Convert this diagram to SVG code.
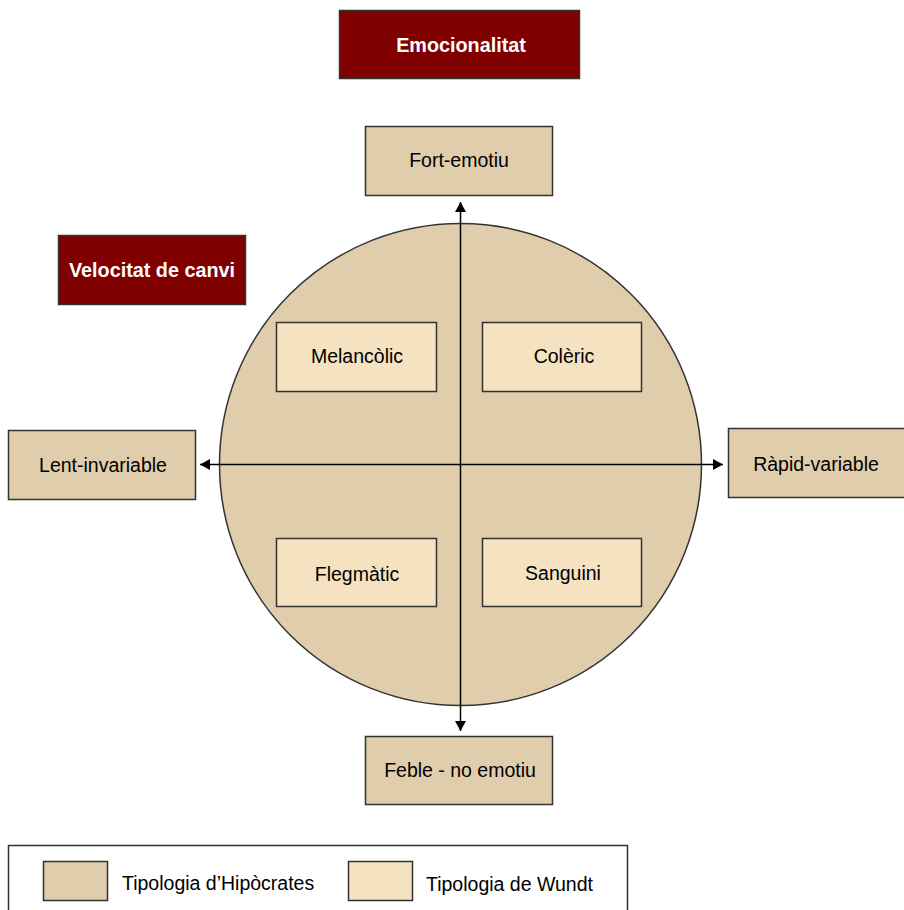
<svg xmlns="http://www.w3.org/2000/svg" width="904" height="910" viewBox="0 0 904 910">
<style>
.h{fill:#E0CDAC;stroke:#333;stroke-width:1.5}
.w{fill:#F5E2C1;stroke:#333;stroke-width:1.5}
.r{fill:#800000;stroke:#333;stroke-width:1.5}
.t{font-family:"Liberation Sans",Arial,sans-serif;font-size:19.5px;fill:#000;text-anchor:middle}
.b{font-family:"Liberation Sans",Arial,sans-serif;font-size:19.8px;font-weight:bold;fill:#fff;text-anchor:middle}
.l{font-family:"Liberation Sans",Arial,sans-serif;font-size:19.5px;fill:#000}
.ax{stroke:#000;stroke-width:1.5;fill:none;marker-start:url(#ah);marker-end:url(#ah)}
</style>
<defs>
<marker id="ah" viewBox="0 0 10 11" refX="10" refY="5.5" markerWidth="10" markerHeight="11" markerUnits="userSpaceOnUse" orient="auto-start-reverse">
<path d="M0,0 L10,5.5 L0,11 z" fill="#000"/>
</marker>
</defs>
<g id="circle"><circle cx="460.5" cy="464.5" r="241" class="h"/></g>
<g id="connectors">
<line x1="460.5" y1="202" x2="460.5" y2="731" class="ax"/>
<line x1="200" y1="464.5" x2="723" y2="464.5" class="ax"/>
</g>
<g id="emocionalitat"><rect x="339.5" y="10.5" width="240" height="68" class="r"/><text x="461" y="52" class="b">Emocionalitat</text></g>
<g id="velocitat"><rect x="58.5" y="235.5" width="187" height="69" class="r"/><text x="152" y="277" class="b">Velocitat de canvi</text></g>
<g id="fort"><rect x="365.5" y="126.5" width="187" height="69" class="h"/><text x="459" y="167" class="t">Fort-emotiu</text></g>
<g id="feble"><rect x="365.5" y="736.5" width="187" height="68" class="h"/><text x="460" y="777" class="t">Feble - no emotiu</text></g>
<g id="lent"><rect x="8.5" y="430.5" width="187" height="69" class="h"/><text x="103" y="472" class="t">Lent-invariable</text></g>
<g id="rapid"><rect x="728.5" y="428.5" width="187" height="69" class="h"/><text x="816" y="471" class="t">Ràpid-variable</text></g>
<g id="melancolic"><rect x="276.5" y="322.5" width="160" height="69" class="w"/><text x="357" y="363" class="t">Melancòlic</text></g>
<g id="coleric"><rect x="482.5" y="322.5" width="159" height="69" class="w"/><text x="564" y="363" class="t">Colèric</text></g>
<g id="flegmatic"><rect x="276.5" y="538.5" width="160" height="68" class="w"/><text x="357" y="581" class="t">Flegmàtic</text></g>
<g id="sanguini"><rect x="482.5" y="538.5" width="159" height="68" class="w"/><text x="563" y="580" class="t">Sanguini</text></g>
<g id="legend">
<rect x="8.5" y="845.5" width="619" height="80" fill="#fff" stroke="#333" stroke-width="1.5"/>
<rect x="43.5" y="861.5" width="64" height="39" class="h"/>
<text x="122" y="890" class="l">Tipologia d’Hipòcrates</text>
<rect x="348.5" y="861.5" width="64" height="39" class="w"/>
<text x="426" y="891" class="l">Tipologia de Wundt</text>
</g>
</svg>
